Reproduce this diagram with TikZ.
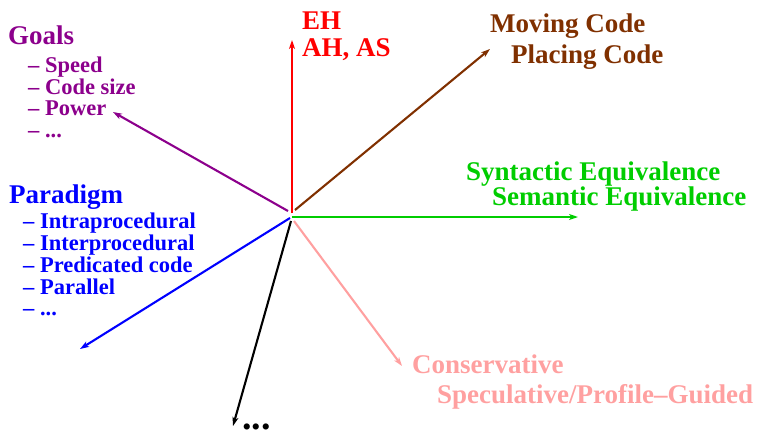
\documentclass[tikz,border=0pt]{standalone}
\usepackage{fontspec}
\setmainfont{Liberation Serif}
\usetikzlibrary{arrows.meta}
\definecolor{cpurple}{RGB}{140,0,140}
\definecolor{cred}{RGB}{255,0,0}
\definecolor{cbrown}{RGB}{128,48,0}
\definecolor{cgreen}{RGB}{0,205,0}
\definecolor{cblue}{RGB}{0,0,255}
\definecolor{cpink}{RGB}{255,160,160}
\tikzset{
  head/.style={font=\fontsize{27}{27}\selectfont\bfseries, inner sep=0pt, anchor=base west},
  item/.style={font=\fontsize{22.5}{22}\selectfont\bfseries, inner sep=0pt, anchor=base west},
  axis/.style={line width=2.1pt, -{Stealth[length=9pt,width=6pt,inset=2.5pt]}},
}
\begin{document}
\begin{tikzpicture}[x=1pt,y=-1pt]
\useasboundingbox (0,0) rectangle (759,431);
% arrow ends
\coordinate (sR) at (292,213);
\coordinate (tR) at (292,40);
\coordinate (sBr) at (295,210);
\coordinate (tBr) at (490,49);
\coordinate (sG) at (292,217);
\coordinate (tG) at (578,217);
\coordinate (sP) at (294,221);
\coordinate (tP) at (402,366);
\coordinate (sK) at (291,221);
\coordinate (tK) at (233,426);
\coordinate (sB) at (290,218);
\coordinate (tB) at (80,349);
\coordinate (sM) at (288,211);
\coordinate (tM) at (113,112);
% Goals
\begin{scope}[text=cpurple]
\node[head] (goals) at (8,44) {Goals};
\node[item] (g1) at (28,72) {– Speed};
\node[item] (g2) at (28,94) {– Code size};
\node[item] (g3) at (28,115.5) {– Power};
\node[item] (g4) at (28,137.5) {– ...};
\end{scope}
% Paradigm
\begin{scope}[text=cblue]
\node[head] (par) at (9,203) {Paradigm};
\node[item] (p1) at (23,228) {– Intraprocedural};
\node[item] (p2) at (23,250) {– Interprocedural};
\node[item] (p3) at (23,272) {– Predicated code};
\node[item] (p4) at (23,294) {– Parallel};
\node[item] (p5) at (23,315) {– ...};
\end{scope}
\node[head, text=cred] (eh) at (302,29) {EH};
\node[head, text=cred] (ahas) at (302,56) {AH, AS};
\node[head, text=cbrown] (mov) at (490,32) {Moving Code};
\node[head, text=cbrown] (pla) at (511,63) {Placing Code};
\node[head, text=cgreen] (syn) at (466,180) {Syntactic Equivalence};
\node[head, text=cgreen] (sem) at (492,205) {Semantic Equivalence};
\node[head, text=cpink] (con) at (412,373) {Conservative};
\node[head, text=cpink] (spe) at (437,403) {Speculative/Profile–Guided};
\node[font=\fontsize{38}{38}\selectfont\bfseries, inner sep=0pt, anchor=base west] (dots) at (242,429.5) {...};
% arrows
\draw[axis, cred] (sR) -- (tR);
\draw[axis, cbrown] (sBr) -- (tBr);
\draw[axis, cgreen] (sG) -- (tG);
\draw[axis, cpink] (sP) -- (tP);
\draw[axis, black] (sK) -- (tK);
\draw[axis, cblue] (sB) -- (tB);
\draw[axis, cpurple] (sM) -- (tM);
\end{tikzpicture}
\end{document}
